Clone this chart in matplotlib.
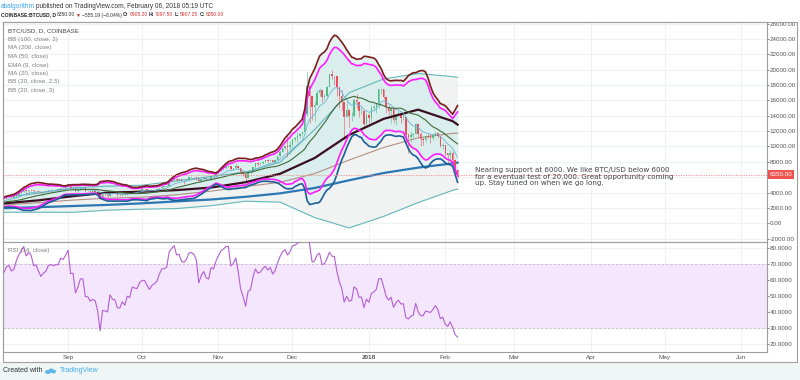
import numpy as np
import pandas as pd
import matplotlib
matplotlib.use("Agg")
import matplotlib.pyplot as plt
import matplotlib.dates as mdates
from matplotlib.patches import Rectangle, Ellipse

W, H = 800, 380
fam = ["Liberation Sans", "DejaVu Sans"]
plt.rcParams["font.family"] = fam

# daily closes before the visible window (Jun 20 - Aug 5 2017), only to warm up indicators
prior_close = [2750, 2670, 2700, 2720, 2590, 2540, 2480, 2590, 2580, 2540, 2480,
               2430, 2510, 2570, 2600, 2600, 2610, 2500, 2560, 2500, 2330, 2310,
               2390, 2360, 2230, 1960, 1920,
               2233, 2318, 2273, 2817, 2667, 2810, 2730, 2754, 2576, 2529,
               2671, 2809, 2726, 2757, 2875, 2718, 2710, 2805, 2895, 3252]

# BTC/USD daily, Aug 6 2017 - Feb 6 2018
close = [3213, 3378, 3419, 3342, 3381, 3650, 3884, 4073, 4325, 4181, 4376, 4331, 4160,
         4193, 4087, 4001, 4100, 4151, 4334, 4371, 4352, 4382, 4382, 4579, 4565, 4703,
         4892, 4578, 4582, 4236, 4376, 4597, 4599, 4228, 4226, 4122, 4161, 4130, 3882,
         3154, 3637, 3625, 3582, 4065, 3924, 3905, 3631, 3630, 3792, 3682, 3926, 3892,
         4200, 4174, 4163, 4338,
         4403, 4409, 4317, 4229, 4328, 4370, 4426, 4611, 4772, 4781, 4826, 5446, 5647,
         5831, 5678, 5725, 5605, 5590, 5708, 6011, 6031, 6008, 5930, 5526, 5750, 5904,
         5780, 5753, 6154, 6130, 6468,
         6767, 7078, 7207, 7379, 7407, 7022, 7144, 7459, 7143, 6618, 6357, 5950, 6559,
         6635, 7315, 7871, 7708, 7790, 8036, 8200, 8071, 8253, 8038, 8253, 8790, 9330,
         9818, 10058, 9888, 10233,
         10975, 11074, 11323, 11657, 11916, 14291, 17899, 16569, 15178, 15455, 16936,
         17415, 16408, 16564, 17706, 19497, 19140, 19114, 17776, 16624, 15802, 13831,
         14699, 13925, 14026, 16099, 15838, 14606, 14656, 12952, 14156,
         13657, 14982, 15201, 15599, 17429, 17527, 16477, 15170, 14595, 14973, 13405,
         13980, 14360, 13772, 13819, 11490, 11188, 11474, 11607, 12899, 11600, 10931,
         10868, 11359, 11259, 11171, 11441, 11787, 11306, 10106, 10221,
         9170, 8830, 9174, 8277, 6905, 6350]

high = [3290, 3410, 3480, 3430, 3440, 3700, 3950, 4200, 4330, 4400, 4390, 4480, 4370,
        4200, 4180, 4100, 4140, 4250, 4350, 4450, 4380, 4400, 4400, 4630, 4620, 4750,
        4920, 4950, 4700, 4560, 4500, 4650, 4670, 4700, 4320, 4250, 4290, 4360, 4140,
        3920, 3750, 3800, 3770, 4100, 4100, 4030, 3920, 3750, 3810, 3800, 3950, 3970,
        4220, 4260, 4180, 4370,
        4410, 4470, 4430, 4350, 4360, 4440, 4470, 4630, 4800, 4920, 4880, 5460, 5860,
        5840, 5850, 5790, 5760, 5610, 5720, 6070, 6190, 6080, 6070, 5890, 5770, 5970,
        5990, 5850, 6280, 6220, 6480,
        6800, 7330, 7460, 7480, 7600, 7450, 7200, 7800, 7460, 7200, 6800, 6400, 6750,
        6700, 7330, 7960, 8000, 7860, 8100, 8290, 8370, 8300, 8300, 8350, 8800, 9480,
        9850, 10080, 11400, 10700,
        11000, 11200, 11850, 11700, 12000, 14370, 19700, 17300, 16400, 15900, 17400,
        17600, 17300, 16900, 17900, 19500, 19900, 19200, 19050, 17800, 17300, 15800,
        15900, 14900, 14500, 16300, 16800, 15800, 15200, 14700, 14300,
        14300, 15400, 15500, 15600, 17500, 17600, 17550, 16500, 15400, 15000, 14950,
        14100, 14600, 14500, 14300, 13850, 11750, 12000, 11800, 13000, 12900, 11900,
        11300, 11500, 11700, 11600, 11600, 12000, 11800, 11300, 10400,
        10200, 9150, 9500, 9400, 8400, 7097.5]

low = [3170, 3200, 3350, 3250, 3300, 3370, 3620, 3850, 4020, 3800, 3950, 4250, 3950,
       3990, 4050, 3950, 3600, 4080, 4120, 4320, 4290, 4330, 4200, 4370, 4480, 4560,
       4680, 4450, 4400, 4100, 4000, 4370, 4510, 4110, 4150, 3850, 4110, 4080, 3750,
       3150, 2970, 3530, 3460, 3590, 3860, 3850, 3570, 3560, 3610, 3660, 3690, 3870,
       3900, 4130, 4000, 4160,
       4270, 4380, 4280, 4200, 4170, 4320, 4340, 4410, 4590, 4730, 4750, 4830, 5400,
       5600, 5450, 5650, 5540, 5170, 5570, 5700, 5890, 5770, 5640, 5500, 5400, 5690,
       5740, 5710, 5670, 6040, 6100,
       6400, 6750, 7000, 7030, 7280, 6950, 6980, 7080, 7040, 6480, 6150, 5500, 5850,
       6430, 6650, 7200, 7500, 7550, 7700, 7950, 7850, 8090, 8020, 8000, 8230, 8750,
       9310, 9700, 8600, 9000,
       9800, 10700, 10550, 11100, 11500, 11900, 14000, 13000, 13500, 13200, 15450,
       16600, 15800, 16000, 16500, 17700, 18800, 18000, 16600, 15000, 14800, 11000,
       13800, 12600, 13300, 13900, 15000, 13800, 14200, 12400, 12800,
       13000, 13200, 14600, 14400, 15000, 16800, 16200, 14300, 14100, 13100, 13000,
       12800, 13800, 13100, 13400, 10200, 9200, 10600, 11100, 11600, 11300, 10100,
       10200, 10600, 11100, 10400, 10900, 11400, 11100, 9900, 9700,
       8750, 7700, 8100, 7900, 6600, 5907.25]

# slow overlays, one point every two weeks (day index from Aug 6)
slow_idx = [0, 14, 28, 42, 56, 70, 84, 98, 112, 126, 140, 154, 168, 182, 184]
ma200 = [1960, 2100, 2250, 2400, 2600, 2850, 3100, 3450, 3900, 4600, 5600, 6550, 7250, 7800, 7900]
ma50 = [2600, 2990, 3530, 4000, 4110, 4320, 4650, 5350, 6450, 8500, 11500, 13600, 14800, 13300, 12850]
bb100_mid = [2400, 2680, 3030, 3270, 3400, 3720, 4190, 4780, 5340, 6470, 8240, 9870, 11130, 11710, 11725]
bb100_up = [3360, 3920, 4630, 4830, 4960, 5520, 6100, 6680, 7950, 12200, 17000, 18800, 19500, 19100, 19000]
bb100_lo = [1440, 1440, 1430, 1710, 1840, 1920, 2290, 2880, 2750, 750, -600, 900, 2700, 4300, 4450]

last_price = 6350.00
months = ["2017-09-01", "2017-10-01", "2017-11-01", "2017-12-01", "2018-01-01",
          "2018-02-01", "2018-03-01", "2018-04-01", "2018-05-01", "2018-06-01"]
month_labels = ["Sep", "Oct", "Nov", "Dec", "2018", "Feb", "Mar", "Apr", "May", "Jun"]
legend_lines = ["BB (100, close, 2)", "MA (200, close)", "MA (50, close)", "EMA (9, close)",
                "MA (20, close)", "BB (20, close, 2.5)", "BB (20, close, 3)"]
note = ("Nearing support at 6000. We like BTC/USD below 6000\n"
        "for a eventual test of 20,000. Great opportunity coming\n"
        "up. Stay tuned on when we go long.")

# ---- indicators on the closes
n0 = len(prior_close)
allc = pd.Series(prior_close + close, dtype=float)
ema9 = allc.ewm(span=9, adjust=False).mean().values[n0:]
ma20 = allc.rolling(20).mean().values[n0:]
sd20 = allc.rolling(20).std(ddof=0).values[n0:]
delta = allc.diff()
up = delta.clip(lower=0).ewm(alpha=1 / 14, adjust=False).mean()
dn = (-delta.clip(upper=0)).ewm(alpha=1 / 14, adjust=False).mean()
rsi = (100 - 100 / (1 + up / dn)).values[n0:]

dates = pd.date_range("2017-08-06", periods=len(close), freq="D")
x = mdates.date2num(dates)
xs = x[slow_idx]
c = np.array(close, dtype=float)
o = np.r_[prior_close[-1], c[:-1]]
hi = np.array(high, dtype=float)
lo = np.array(low, dtype=float)


def box(x0, y0, x1, y1):
    return [x0 / W, 1 - y1 / H, (x1 - x0) / W, (y1 - y0) / H]


fig = plt.figure(figsize=(8, 3.8), dpi=100, facecolor="white")
fig.patches.append(Rectangle((0, 0), 1, 1 - 362 / H, transform=fig.transFigure,
                             facecolor="#eef6f6", edgecolor="none", zorder=0))

ax = fig.add_axes(box(3, 22, 767, 242))
ax2 = fig.add_axes(box(3, 242, 767, 352), sharex=ax)

x0 = mdates.date2num(pd.Timestamp("2017-09-01")) - 26.4
x1 = mdates.date2num(pd.Timestamp("2018-06-01")) + 10.5
ax.set_xlim(x0, x1)
ax.set_ylim(-2435, 26210)
ax2.set_ylim(15.2, 83.9)

grid_c = "#edf2f4"
mx = mdates.date2num(pd.to_datetime(months))
for a in (ax, ax2):
    for m in mx:
        a.axvline(m, color=grid_c, lw=0.8, zorder=0)
    for s in a.spines.values():
        s.set_color("#9e9e9e")
        s.set_linewidth(0.8)
for v in range(-2000, 26001, 2000):
    ax.axhline(v, color=grid_c, lw=0.8, zorder=0)
for v in range(20, 81, 10):
    ax2.axhline(v, color=grid_c, lw=0.8, zorder=0)

# bollinger fills
ax.fill_between(xs, bb100_lo, bb100_up, color="#f1f3f3", zorder=1, lw=0)
ax.fill_between(x, ma20 - 3 * sd20, ma20 + 3 * sd20, color="#e3f2f1", zorder=1.2, lw=0)
ax.fill_between(x, ma20 - 2.5 * sd20, ma20 + 2.5 * sd20, color="#d9eeed", zorder=1.3, lw=0)

ax.plot(xs, bb100_up, color="#62b7bb", lw=0.8, zorder=2)
ax.plot(xs, bb100_lo, color="#62b7bb", lw=0.8, zorder=2)
ax.plot(xs, bb100_mid, color="#b39086", lw=0.8, zorder=2)
ax.plot(xs, ma200, color="#2b78b4", lw=1.6, zorder=2.5)

# candles
up_c, dn_c = "#53b987", "#eb4d5c"
cols = np.where(c >= o, up_c, dn_c)
ax.vlines(x, lo, hi, colors=cols, lw=0.4, zorder=3)
ax.bar(x, np.maximum(np.abs(c - o), 40), bottom=np.minimum(o, c), width=0.6,
       color=cols, lw=0, zorder=3)

ax.plot(xs, ma50, color="#3a0f1f", lw=1.6, zorder=4)
ax.plot(x, ema9, color="#6fb3d3", lw=0.6, zorder=4)
ax.plot(x, ma20, color="#3e6b3a", lw=0.8, zorder=4)
ax.plot(x, ma20 + 2.5 * sd20, color="#ff1cff", lw=1.2, zorder=4.5)
ax.plot(x, ma20 - 2.5 * sd20, color="#ff1cff", lw=1.2, zorder=4.5)
ax.plot(x, ma20 + 3 * sd20, color="#7a1d1d", lw=1.2, zorder=4.6)
ax.plot(x, ma20 - 3 * sd20, color="#1f5e97", lw=1.2, zorder=4.6)

ax.axhline(last_price, color="#f08a8a", lw=0.6, ls=(0, (1.5, 1.5)), zorder=4.8)

# axes labels (the 6000 label sits under the last-price tag, so it is left blank)
price_ticks = list(range(-2000, 26001, 2000))
ax.yaxis.tick_right()
ax.set_yticks(price_ticks)
ax.set_yticklabels(["" if v == 6000 else f"{v:.2f}" for v in price_ticks])
ax2.yaxis.tick_right()
ax2.set_yticks(range(20, 81, 10))
ax2.set_yticklabels([f"{v:.4f}" for v in range(20, 81, 10)])
for a in (ax, ax2):
    a.tick_params(axis="y", labelsize=4.5, colors="#555555", length=1.5, width=0.5, pad=0.6)
ax.tick_params(axis="x", bottom=False, labelbottom=False)
ax2.set_xticks(mx)
ax2.set_xticklabels(month_labels)
ax2.tick_params(axis="x", labelsize=4.6, colors="#555555", length=0, pad=2.5)
ax2.get_xticklabels()[4].set_fontweight("bold")

# current price tag
ax.annotate(f"{last_price:.2f}", xy=(1, last_price), xycoords=("axes fraction", "data"),
            xytext=(1.6, 0), textcoords="offset points", ha="left", va="center",
            fontsize=4.5, color="white", zorder=10, annotation_clip=False,
            bbox=dict(boxstyle="square,pad=0.25", fc="#ef5350", ec="none"))

# RSI panel
ax2.axhspan(30, 70, color="#f4e6fc", zorder=0.5, lw=0)
ax2.axhline(70, color="#c9bccf", lw=0.6, ls=(0, (3, 2)), zorder=1)
ax2.axhline(30, color="#c9bccf", lw=0.6, ls=(0, (3, 2)), zorder=1)
ax2.plot(x, rsi, color="#b35fd3", lw=0.8, zorder=3)

# outer frame
fig.patches.append(Rectangle((3 / W, 1 - 362 / H), 794 / W, 340 / H, transform=fig.transFigure,
                             fill=False, edgecolor="#a0a0a0", lw=0.8, zorder=5))


def ftext(px, py, s, **kw):
    kw.setdefault("fontsize", 4.8)
    kw.setdefault("va", "center")
    return fig.text(px / W, 1 - py / H, s, **kw)


renderer = fig.canvas.get_renderer()


def run_of_text(px, py, parts, size, gap=1.5):
    # lay pieces out one after another, using their rendered widths
    cur = px
    for s, col, wt in parts:
        t = ftext(cur, py, s, color=col, fontweight=wt, fontsize=size)
        cur += t.get_window_extent(renderer=renderer).width + gap
    return cur


run_of_text(1, 6, [("abalgorithm", "#3ea6ec", "normal"),
                   ("published on TradingView.com, February 06, 2018 05:19 UTC", "#333333", "normal")],
            4.7, gap=1.3)
parts2 = [("COINBASE:BTCUSD, D", "#222222", "bold"), ("6350.00", "#333333", "normal"),
          ("\u25bc", "#c62828", "normal"), ("\u2212555.19 (\u22128.04%)", "#333333", "normal")]
for lab, val in [("O:", "6905.20"), ("H:", "7097.50"), ("L:", "5907.25"), ("C:", "6350.00")]:
    parts2 += [(lab, "#222222", "bold"), (val, "#d32f2f", "normal")]
run_of_text(1, 15, parts2, 3.6, gap=1.0)

ftext(8, 31, "BTC/USD, D, COINBASE", color="#444444", fontsize=4.5)
for k, s in enumerate(legend_lines):
    ftext(8, 39.5 + 8.5 * k, s, color="#808080", fontsize=4.5)
ftext(8, 250, "RSI (14, close)", color="#808080", fontsize=4.5)

ftext(475, 176.5, note, color="#444444", family="DejaVu Sans", fontsize=5.1,
      linespacing=1.1)

ftext(3, 371, "Created with", color="#333333", fontsize=5)
for (ex, ey, ew, eh) in [(48, 372, 6, 4), (51, 370.5, 5, 4), (53.5, 371.5, 5, 4)]:
    fig.patches.append(Ellipse((ex / W, 1 - ey / H), ew / W, eh / H, transform=fig.transFigure,
                               facecolor="#5db8e8", edgecolor="none", zorder=6))
ftext(60, 371, "TradingView", color="#45aee8", fontsize=5)

fig.savefig("out.png", dpi=100, facecolor=fig.get_facecolor())
